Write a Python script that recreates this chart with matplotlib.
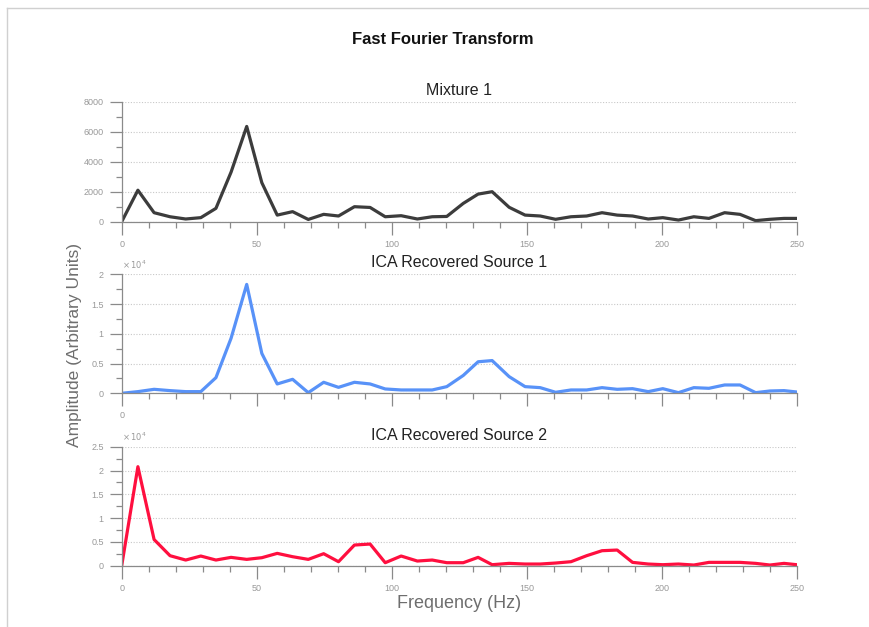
import matplotlib.pyplot as plt
from matplotlib.ticker import MultipleLocator, FuncFormatter
from matplotlib.lines import Line2D

plt.rcParams['font.family'] = ['Liberation Sans', 'DejaVu Sans']

# frequency bins (Hz)
freq = [0, 6.0, 12.0, 17.9, 23.7, 29.3, 34.9, 40.5, 46.3, 51.9, 57.6, 63.3, 69.1,
        74.8, 80.3, 86.2, 92.0, 97.6, 103.5, 109.5, 115.0, 120.4, 126.5, 132.0,
        137.2, 143.5, 149.4, 155.0, 160.7, 166.4, 172.2, 177.9, 183.5, 189.2,
        195.0, 200.4, 206.2, 211.9, 217.5, 223.3, 229.0, 234.8, 240.1, 245.3, 250.0]

mixture1 = [0, 2100, 600, 330, 180, 270, 890, 3300, 6350, 2600, 440, 670, 150,
            490, 380, 1000, 950, 330, 400, 180, 330, 350, 1220, 1840,
            2000, 960, 440, 380, 160, 330, 380, 600, 440, 380,
            180, 270, 110, 330, 220, 600, 490, 70, 160, 220, 220]

source1 = [0, 280, 670, 450, 280, 280, 2630, 9240, 18300, 6700, 1570, 2350, 110,
           1850, 1000, 1850, 1570, 730, 560, 560, 560, 1120, 3000, 5300,
           5500, 2800, 1120, 950, 170, 560, 560, 950, 670, 780,
           280, 780, 110, 950, 840, 1400, 1400, 110, 390, 450, 220]

source2 = [0, 20800, 5500, 2100, 1190, 2030, 1190, 1750, 1330, 1680, 2590, 1890, 1330,
           2520, 840, 4340, 4550, 630, 2030, 980, 1190, 630, 630, 1750,
           210, 490, 350, 350, 560, 840, 2100, 3150, 3290, 700,
           350, 210, 350, 140, 700, 700, 700, 490, 140, 490, 210]

panels = [
    ("Mixture 1", mixture1, "#3c3c3c", 8000, 2000, 1000, False),
    ("ICA Recovered Source 1", source1, "#5892f8", 20000, 5000, 2500, True),
    ("ICA Recovered Source 2", source2, "#ff0f3f", 25000, 5000, 2500, True),
]

W, H = 870, 627
fig = plt.figure(figsize=(W / 100, H / 100), dpi=100)

# axes boxes in pixels: (left, top, right, bottom)
boxes = [(121.7, 101.7, 796.7, 221.7),
         (121.7, 274.3, 796.7, 393.3),
         (121.7, 446.7, 796.7, 565.7)]

grey = "#8a8a8a"
for i, ((name, vals, col, ymax, major, minor, sci), (l, t, r, b)) in enumerate(zip(panels, boxes)):
    ax = fig.add_axes([l / W, 1 - b / H, (r - l) / W, (b - t) / H])
    ax.plot(freq, vals, color=col, lw=2.3, solid_joinstyle='round')
    ax.set_xlim(0, 250)
    ax.set_ylim(0, ymax)
    ax.xaxis.set_major_locator(MultipleLocator(50))
    ax.xaxis.set_minor_locator(MultipleLocator(10))
    ax.yaxis.set_major_locator(MultipleLocator(major))
    ax.yaxis.set_minor_locator(MultipleLocator(minor))
    for s in ("top", "right"):
        ax.spines[s].set_visible(False)
    for s in ("left", "bottom"):
        ax.spines[s].set_color(grey)
        ax.spines[s].set_linewidth(0.9)
    ax.tick_params(which='major', length=9, width=0.9, color=grey, labelcolor="#999999",
                   labelsize=6.5, pad=4)
    ax.tick_params(which='minor', length=4.5, width=0.9, color=grey)
    ax.grid(axis='y', which='major', linestyle=(0, (1, 1.5)), color="#c8c8c8", lw=0.8)
    ax.set_axisbelow(True)
    if sci:
        ax.yaxis.set_major_formatter(FuncFormatter(lambda v, p: f"{v / 1e4:g}"))
        ax.text(0.0, 1.03, r"$\times\,10^4$", transform=ax.transAxes, ha='left',
                va='bottom', fontsize=6, color="#999999")
    else:
        ax.yaxis.set_major_formatter(FuncFormatter(lambda v, p: f"{v:.0f}"))
    if i == 1:
        # only the origin is labelled under the middle panel
        ax.xaxis.set_major_formatter(FuncFormatter(lambda v, p: "0" if v == 0 else ""))
    ax.set_title(name, fontsize=11.5, color="#222222", pad=5)

fig.text(443 / W, 1 - 40 / H, "Fast Fourier Transform", ha='center', va='center',
         fontsize=12, fontweight='bold', color="#111111")
fig.text(75 / W, 1 - 345 / H, "Amplitude (Arbitrary Units)", rotation=90,
         ha='center', va='center', fontsize=12.5, color="#6e6e6e")
fig.text(459 / W, 1 - 603 / H, "Frequency (Hz)", ha='center', va='center',
         fontsize=13, color="#6e6e6e")

# thin frame around the picture (top and left)
fig.add_artist(Line2D([7 / W, 1], [1 - 8 / H, 1 - 8 / H], transform=fig.transFigure,
                      color="#d0d0d0", lw=1))
fig.add_artist(Line2D([7 / W, 7 / W], [0, 1 - 8 / H], transform=fig.transFigure,
                      color="#d0d0d0", lw=1))

fig.savefig("out.png", dpi=100)
